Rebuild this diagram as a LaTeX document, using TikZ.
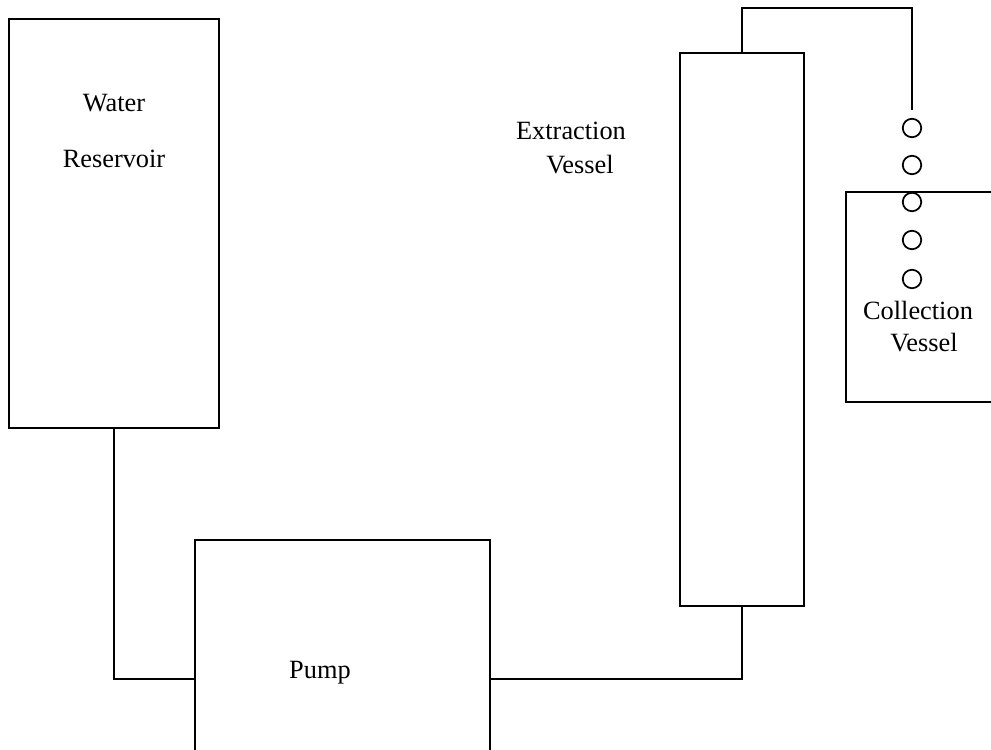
\documentclass[tikz,border=0pt]{standalone}
\usepackage{fontspec}
\setmainfont{Liberation Serif}
\usetikzlibrary{positioning}

\begin{document}
\begin{tikzpicture}[x=0.02cm, y=-0.02cm,
  tank/.style={draw, line width=1pt, inner sep=0pt},
  lbl/.style={font=\fontsize{15}{18}\selectfont, inner sep=0pt},
  pipe/.style={line width=1pt},
  drop/.style={draw, circle, line width=1pt, minimum size=0.37cm, inner sep=0pt}
]
\clip (0,0) rectangle (991,750);
% vessels
\node[tank, minimum width=4.2cm, minimum height=8.18cm] (res) at (114,223.5) {};
\node[tank, minimum width=5.9cm, minimum height=5.56cm] (pump) at (342.5,679) {};
\node[tank, minimum width=2.48cm, minimum height=11.06cm] (ext) at (742,329.5) {};
\node[tank, minimum width=3.28cm, minimum height=4.2cm] (coll) at (928,297) {};
% labels
\node[lbl] (wat) at (114,103) {Water};
\node[lbl] (resl) at (114,159) {Reservoir};
\node[lbl] (pumpl) at (320,673) {Pump};
\node[lbl] (extl) at (571,131) {Extraction};
\node[lbl] (extv) at (580,165) {Vessel};
\node[lbl] (colll) at (918,310) {Collection};
\node[lbl] (collv) at (924,343) {Vessel};
% drops
\foreach \i/\y in {1/128,2/165,3/202,4/240,5/279}
 \node[drop] (d\i) at (912,\y) {};
% pipes
\coordinate (top) at (912,8);
\draw[pipe] (res.south) |- (pump.west);
\draw[pipe] (pump.east) -| (ext.south);
\draw[pipe] (ext.north) |- (top) -- ([yshift=0.15cm]d1.north);
\end{tikzpicture}
\end{document}
